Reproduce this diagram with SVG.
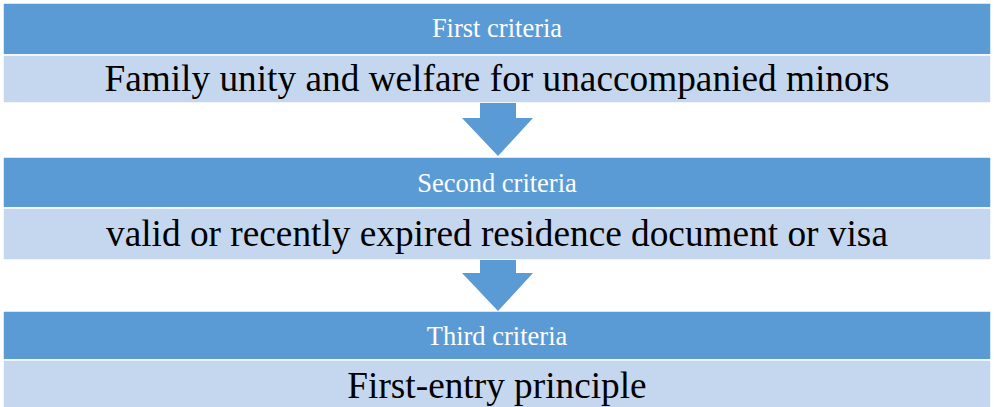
<svg xmlns="http://www.w3.org/2000/svg" width="994" height="407" viewBox="0 0 994 407">
<style>
.dark{fill:#5B9BD5;stroke:#ffffff;stroke-width:1.5}
.light{fill:#C5D7EE;stroke:#ffffff;stroke-width:1.5}
.title{font-family:"Liberation Serif","Times New Roman",serif;font-size:26.5px;fill:#ffffff;text-anchor:middle}
.main{font-family:"Liberation Serif","Times New Roman",serif;font-size:37.3px;fill:#000000;text-anchor:middle}
.arrow{fill:#5B9BD5}
</style>
<rect width="994" height="407" fill="#ffffff"/>
<g id="node1">
<rect class="dark" x="3" y="3" width="988" height="52"/>
<text class="title" x="497" y="37">First criteria</text>
<rect class="light" x="3" y="55" width="988" height="48"/>
<text class="main" x="497" y="91">Family unity and welfare for unaccompanied minors</text>
</g>
<g id="node2">
<rect class="dark" x="3" y="157" width="988" height="51"/>
<text class="title" x="497" y="192">Second criteria</text>
<rect class="light" x="3" y="208" width="988" height="52"/>
<text class="main" x="497" y="246">valid or recently expired residence document or visa</text>
</g>
<g id="node3">
<rect class="dark" x="3" y="311" width="988" height="49"/>
<text class="title" x="497" y="345">Third criteria</text>
<rect class="light" x="3" y="360" width="988" height="48"/>
<text class="main" x="497" y="398">First-entry principle</text>
</g>
<g id="connectors">
<polygon class="arrow" points="480,103 516,103 516,118 533,118 498,156 462,118 480,118"/>
<polygon class="arrow" points="480,260 516,260 516,273 533,273 498,311 462,273 480,273"/>
</g>
</svg>
